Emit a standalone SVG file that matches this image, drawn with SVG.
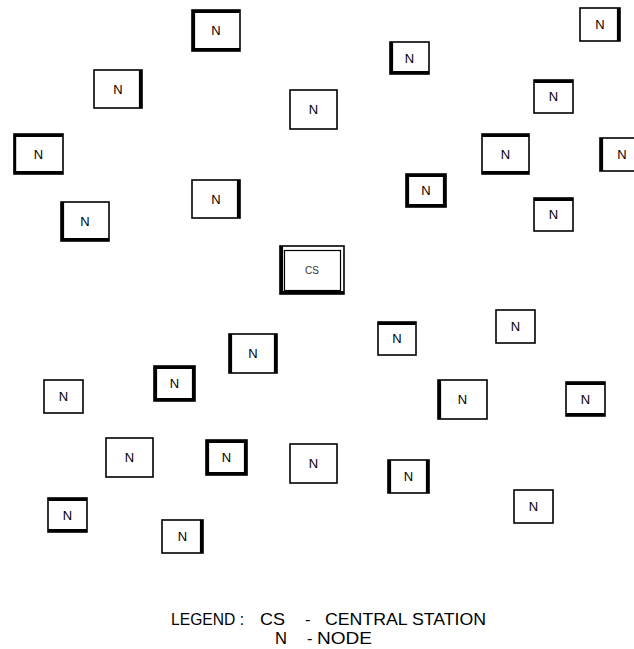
<svg xmlns="http://www.w3.org/2000/svg" width="634" height="649" viewBox="0 0 634 649">
<style>
.b{fill:#fff;stroke:#000;stroke-width:1.6}
.k{stroke:#000;stroke-width:3.2;fill:none}
.t{font-family:"Liberation Sans",Arial,sans-serif;font-size:13px;fill:#000;text-anchor:middle}
.cs{font-family:"Liberation Sans",Arial,sans-serif;font-size:10px;fill:#333;text-anchor:middle}
.lg{font-family:"Liberation Sans",Arial,sans-serif;font-size:16.5px;fill:#000}
</style>
<rect width="634" height="649" fill="#fff"/>
<g id="n1"><rect class="b" x="192" y="10" width="48" height="41"/><path class="k" d="M193.5 10V51M192 11.5H240M192 49.5H240"/><text class="t" x="216" y="35">N</text></g>
<g id="n2"><rect class="b" x="580" y="8" width="40" height="33"/><path class="k" d="M618.5 8V41"/><text class="t" x="600" y="29">N</text></g>
<g id="n3"><rect class="b" x="390" y="42" width="39" height="32"/><path class="k" d="M391.5 42V74M390 72.5H429"/><text class="t" x="409.5" y="63">N</text></g>
<g id="n4"><rect class="b" x="94" y="70" width="48" height="38"/><path class="k" d="M140.5 70V108"/><text class="t" x="118" y="94">N</text></g>
<g id="n5"><rect class="b" x="290" y="90" width="47" height="39"/><text class="t" x="313.5" y="114">N</text></g>
<g id="n6"><rect class="b" x="534" y="80" width="39" height="33"/><path class="k" d="M534 81.5H573"/><text class="t" x="553.5" y="101">N</text></g>
<g id="n7"><rect class="b" x="14" y="134" width="49" height="40"/><path class="k" d="M14 135.5H63M14 172.5H63"/><path class="k" style="stroke-width:2.4" d="M15 134V174"/><text class="t" x="38.5" y="159">N</text></g>
<g id="n8"><rect class="b" x="482" y="134" width="47" height="40"/><path class="k" d="M482 135.5H529M482 172.5H529"/><text class="t" x="505.5" y="159">N</text></g>
<g id="n9"><rect class="b" x="600" y="138" width="38" height="33"/><path class="k" d="M601.5 138V171"/><text class="t" x="622" y="159">N</text></g>
<g id="n10"><rect class="b" x="406" y="174" width="40" height="33"/><path class="k" d="M407.5 174V207M406 175.5H446M406 205.5H446M444.5 174V207"/><text class="t" x="426" y="195">N</text></g>
<g id="n11"><rect class="b" x="192" y="180" width="48" height="38"/><path class="k" d="M238.5 180V218"/><text class="t" x="216" y="204">N</text></g>
<g id="n12"><rect class="b" x="534" y="198" width="39" height="33"/><path class="k" d="M534 199.5H573"/><text class="t" x="553.5" y="219">N</text></g>
<g id="n13"><rect class="b" x="61" y="202" width="48" height="39"/><path class="k" d="M62.5 202V241M61 239.5H109"/><text class="t" x="85" y="226">N</text></g>
<g id="cs"><rect class="b" x="280" y="246" width="64" height="48"/><path class="k" d="M281.5 246V294M280 292.5H344"/><rect x="284.5" y="250.5" width="56" height="40" fill="none" stroke="#000" stroke-width="1.2"/><text class="cs" x="312" y="274">CS</text></g>
<g id="n15"><rect class="b" x="378" y="322" width="38" height="33"/><path class="k" d="M378 323.5H416"/><text class="t" x="397" y="343">N</text></g>
<g id="n16"><rect class="b" x="496" y="310" width="39" height="33"/><text class="t" x="515.5" y="331">N</text></g>
<g id="n17"><rect class="b" x="438" y="380" width="49" height="39"/><path class="k" d="M439.5 380V419"/><text class="t" x="462.5" y="404">N</text></g>
<g id="n18"><rect class="b" x="566" y="382" width="39" height="34"/><path class="k" d="M566 383.5H605M566 414.5H605"/><text class="t" x="585.5" y="404">N</text></g>
<g id="n19"><rect class="b" x="290" y="444" width="47" height="39"/><text class="t" x="313.5" y="468">N</text></g>
<g id="n20"><rect class="b" x="388" y="460" width="41" height="33"/><path class="k" d="M389.5 460V493M427.5 460V493"/><text class="t" x="408.5" y="481">N</text></g>
<g id="n21"><rect class="b" x="514" y="490" width="39" height="33"/><text class="t" x="533.5" y="511">N</text></g>
<g id="n22"><rect class="b" x="229" y="334" width="48" height="39"/><path class="k" d="M230.5 334V373M275.5 334V373"/><text class="t" x="253" y="358">N</text></g>
<g id="n23"><rect class="b" x="154" y="366" width="41" height="35"/><path class="k" d="M155.5 366V401M154 367.5H195M154 399.5H195M193.5 366V401"/><text class="t" x="174.5" y="388">N</text></g>
<g id="n24"><rect class="b" x="44" y="380" width="39" height="33"/><text class="t" x="63.5" y="401">N</text></g>
<g id="n25"><rect class="b" x="106" y="438" width="47" height="39"/><text class="t" x="129.5" y="462">N</text></g>
<g id="n26"><rect class="b" x="206" y="440" width="41" height="35"/><path class="k" d="M207.5 440V475M206 441.5H247M206 473.5H247M245.5 440V475"/><text class="t" x="226.5" y="462">N</text></g>
<g id="n27"><rect class="b" x="48" y="498" width="39" height="34"/><path class="k" d="M48 499.5H87M48 530.5H87"/><text class="t" x="67.5" y="520">N</text></g>
<g id="n28"><rect class="b" x="162" y="520" width="41" height="33"/><path class="k" d="M201.5 520V553"/><text class="t" x="182.5" y="541">N</text></g>
<g id="connectors"></g>
<g id="legend">
<text class="lg" x="171" y="625" textLength="73" lengthAdjust="spacingAndGlyphs">LEGEND :</text>
<text class="lg" x="260" y="625" textLength="25" lengthAdjust="spacingAndGlyphs">CS</text>
<text class="lg" x="305" y="625">-</text>
<text class="lg" x="325" y="625" textLength="161" lengthAdjust="spacingAndGlyphs">CENTRAL STATION</text>
<text class="lg" x="275" y="644" textLength="12" lengthAdjust="spacingAndGlyphs">N</text>
<text class="lg" x="307" y="644">-</text>
<text class="lg" x="317" y="644" textLength="55" lengthAdjust="spacingAndGlyphs">NODE</text>
</g>
</svg>
